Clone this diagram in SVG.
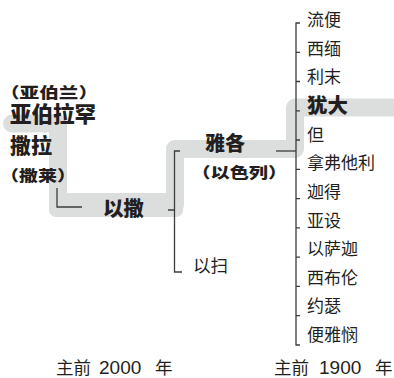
<svg xmlns="http://www.w3.org/2000/svg" width="394" height="378" viewBox="0 0 394 378">
<style>
.band{fill:none;stroke:#dcdddd;stroke-width:18;stroke-linejoin:round;stroke-linecap:round}
.ln{fill:none;stroke:#3c3c3c;stroke-width:1.3}
.b{font-family:"Noto Sans CJK SC","Noto Sans",sans-serif;font-weight:900;fill:#231f20}
.r{font-family:"Noto Sans CJK SC","Noto Sans",sans-serif;font-weight:400;fill:#231f20}
.d{font-family:"Liberation Sans","Noto Sans CJK SC",sans-serif;font-weight:400;fill:#231f20;font-size:19px}
</style>
<rect width="394" height="378" fill="#ffffff"/>
<g id="band">
<path class="band" d="M12 123.5 H58 V205 H175 V149 H295 V107.5 H410"/>
<rect x="49" y="193" width="134" height="24" rx="7" fill="#dcdddd"/>
</g>
<g id="connectors">
<path class="ln" d="M57 188 V207 H82"/>
<path class="ln" d="M180 151 H174.5 V272 H182 M168 210 H174.5"/>
<path class="ln" d="M276 151 H296"/>
<path class="ln" d="M300 23 H296 V345 H300 M296 52.3 H300 M296 81.5 H300 M296 110.8 H300 M296 140 H300 M296 169.4 H300 M296 198.6 H300 M296 227.9 H300 M296 257.2 H300 M296 286.4 H300 M296 315.7 H300"/>
</g>
<g id="abraham">
<text class="b" x="0" y="98" font-size="15" textLength="98" lengthAdjust="spacingAndGlyphs">（亚伯兰）</text>
<text class="b" x="10" y="122" font-size="21.5">亚伯拉罕</text>
</g>
<g id="sarah">
<text class="b" x="10" y="153" font-size="21">撒拉</text>
<text class="b" x="0" y="181" font-size="15" textLength="76" lengthAdjust="spacingAndGlyphs">（撒莱）</text>
</g>
<g id="isaac"><text class="b" x="103" y="216" font-size="20.5">以撒</text></g>
<g id="jacob">
<text class="b" x="205" y="151" font-size="20">雅各</text>
<text class="b" x="191.5" y="178" font-size="15" textLength="95.6" lengthAdjust="spacingAndGlyphs">（以色列）</text>
</g>
<g id="esau"><text class="r" x="193" y="272" font-size="17.5">以扫</text></g>
<g id="sons" font-size="17">
<text class="r" x="307" y="26">流便</text>
<text class="r" x="307" y="54.6">西缅</text>
<text class="r" x="307" y="83.3">利末</text>
<text class="b" x="307" y="113" font-size="20.5">犹大</text>
<text class="r" x="307" y="140.6">但</text>
<text class="r" x="307" y="169.2">拿弗他利</text>
<text class="r" x="307" y="197.8">迦得</text>
<text class="r" x="307" y="226.5">亚设</text>
<text class="r" x="307" y="255.1">以萨迦</text>
<text class="r" x="307" y="283.8">西布伦</text>
<text class="r" x="307" y="312.4">约瑟</text>
<text class="r" x="307" y="341">便雅悯</text>
</g>
<g id="axis" font-size="17.5">
<text class="r" y="374"><tspan x="56">主前</tspan><tspan class="d" x="99">2000</tspan><tspan x="155">年</tspan></text>
<text class="r" y="374"><tspan x="274">主前</tspan><tspan class="d" x="319">1900</tspan><tspan x="375">年</tspan></text>
</g>
</svg>
